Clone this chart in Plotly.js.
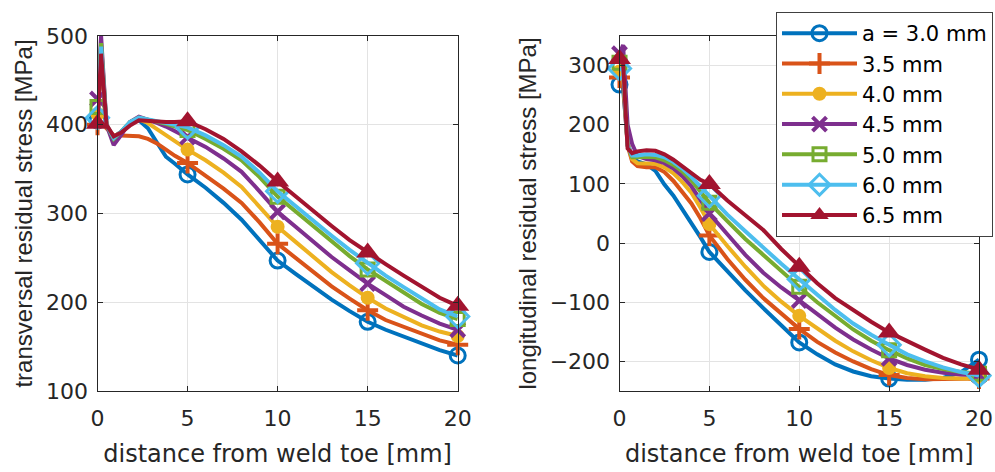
<!DOCTYPE html>
<html>
<head>
<meta charset="utf-8">
<script src="https://cdn.plot.ly/plotly-3.0.1.min.js"></script>
<style>html,body{margin:0;padding:0;background:#fff;}#chart{width:995px;height:472px;}</style>
</head>
<body>
<div id="chart"></div>
<script>
// ---- data ----
const seriesNames = ['a = 3.0 mm', '3.5 mm', '4.0 mm', '4.5 mm', '5.0 mm', '6.0 mm', '6.5 mm'];
const markerAt = [0, 5, 10, 15, 20];

const xLeft = [0, 0.2, 0.5, 0.9, 1.3, 1.8, 2.3, 2.8, 3.3, 3.8, 4.3, 5, 6, 7, 8, 9, 10, 11, 12, 13, 14, 15, 16, 17, 18, 19, 20];
const transA30 = [405, 478, 398, 386, 392, 402, 405, 396, 380, 364, 356, 344, 329, 312, 293, 270, 247, 232, 217, 203, 190, 178, 169, 161, 153, 146, 140];
const transA35 = [400, 480, 396, 388, 388, 388, 387, 384, 379, 372, 365, 357, 343, 328, 312, 290, 266, 250, 234, 218, 204, 191, 180, 172, 164, 157, 152];
const transA40 = [412, 484, 398, 386, 392, 402, 406, 402, 395, 388, 381, 372, 360, 346, 330, 308, 285, 268, 251, 234, 219, 205, 193, 183, 174, 167, 162];
const transA45 = [429, 500, 400, 377, 388, 403, 409, 406, 402, 398, 393, 386, 375, 362, 347, 325, 302, 285, 268, 251, 236, 221, 208, 195, 185, 176, 169];
const transA50 = [420, 492, 400, 384, 392, 403, 408, 406, 404, 401, 398, 394, 384, 373, 360, 341, 319, 302, 285, 268, 252, 237, 224, 210, 198, 188, 181];
const transA60 = [408, 488, 400, 385, 392, 403, 408, 406, 404, 402, 400, 397, 388, 377, 364, 346, 325, 308, 291, 275, 259, 244, 230, 217, 204, 192, 184];
const transA65 = [401, 480, 400, 387, 391, 399, 405, 404, 403, 403, 403, 404, 395, 384, 370, 354, 336, 319, 302, 286, 270, 256, 243, 230, 217, 205, 196];

const xRight = [0, 0.2, 0.45, 0.7, 1.0, 1.5, 2.0, 2.5, 3.0, 3.5, 4.0, 4.5, 5, 6, 7, 8, 9, 10, 11, 12, 13, 14, 15, 16, 17, 18, 19, 20];
const longA30 = [268, 262, 170, 145, 138, 133, 122, 99, 80, 57, 35, 10, -15, -48, -80, -110, -140, -168, -188, -205, -217, -225, -229, -231, -231, -228, -218, -197];
const longA35 = [280, 270, 165, 138, 130, 128, 128, 120, 105, 87, 67, 42, 13, -27, -62, -93, -120, -145, -167, -185, -200, -213, -223, -228, -230, -230, -230, -229];
const longA40 = [290, 285, 170, 142, 135, 135, 134, 128, 118, 103, 85, 60, 32, -5, -40, -72, -99, -123, -145, -165, -183, -198, -211, -220, -225, -228, -229, -229];
const longA45 = [320, 335, 200, 168, 147, 142, 140, 135, 126, 113, 96, 73, 50, 15, -20, -50, -75, -97, -121, -143, -163, -180, -195, -206, -214, -219, -222, -223];
const longA50 = [305, 300, 165, 145, 145, 146, 145, 140, 132, 121, 106, 88, 68, 37, 7, -20, -48, -74, -100, -124, -146, -165, -181, -195, -206, -213, -218, -221];
const longA60 = [295, 292, 165, 148, 148, 150, 149, 145, 137, 126, 112, 96, 80, 48, 20, -8, -35, -61, -88, -113, -136, -155, -172, -188, -200, -210, -218, -224];
const longA65 = [311, 305, 160, 152, 155, 157, 156, 150, 141, 130, 117, 107, 100, 72, 47, 22, -10, -40, -68, -93, -114, -133, -151, -166, -180, -194, -205, -214];

const xTicks = [0, 5, 10, 15, 20];
const yTicksLeft = [100, 200, 300, 400, 500];
const yTicksRight = [-200, -100, 0, 100, 200, 300];

// ---- styles ----
const colors = ['#0072BD', '#D95319', '#EDB120', '#7E2F8E', '#77AC30', '#4DBEEE', '#A2142F'];
const symbols = ['circle-open', 'cross-thin-open', 'circle', 'x-thin-open', 'square-open', 'diamond-open', 'triangle-up'];
const sizes = [15, 15, 14, 14, 13, 17, 20];
const mlw = [3, 4, 0, 4, 3, 3, 0];

const leftSeries = [transA30, transA35, transA40, transA45, transA50, transA60, transA65];
const rightSeries = [longA30, longA35, longA40, longA45, longA50, longA60, longA65];

function pick(xs, ys) {
  const mx = [], my = [];
  xs.forEach((x, i) => { if (markerAt.indexOf(x) >= 0) { mx.push(x); my.push(ys[i]); } });
  return [mx, my];
}

const traces = [];
function addSeries(xs, ys, i, xa, ya) {
  traces.push({x: xs, y: ys, xaxis: xa, yaxis: ya, mode: 'lines', showlegend: false,
    line: {color: colors[i], width: 4}, hoverinfo: 'skip'});
  const [mx, my] = pick(xs, ys);
  traces.push({x: mx, y: my, xaxis: xa, yaxis: ya, mode: 'markers', showlegend: false, cliponaxis: false,
    marker: {symbol: symbols[i], size: sizes[i], color: colors[i], line: {color: colors[i], width: mlw[i]}}});
}
for (let i = 0; i < 7; i++) {
  addSeries(xLeft, leftSeries[i], i, 'x', 'y');
  addSeries(xRight, rightSeries[i], i, 'x2', 'y2');
}
for (let i = 0; i < 7; i++) {
  traces.push({x: [null], y: [null], xaxis: 'x2', yaxis: 'y2', mode: 'lines+markers', name: seriesNames[i],
    line: {color: colors[i], width: 4},
    marker: {symbol: symbols[i], size: sizes[i], color: colors[i], line: {color: colors[i], width: mlw[i]}}});
}

const axisCol = '#262626';
const tickFont = {family: 'DejaVu Sans', size: 22, color: axisCol};
function xax(domain, anchor) {
  return {domain: domain, anchor: anchor, range: [0, 20], tickvals: xTicks, ticks: 'inside', ticklen: 5,
    tickcolor: axisCol, showline: true, linecolor: axisCol, linewidth: 1, mirror: 'ticks',
    showgrid: true, gridcolor: '#e3e3e3', zeroline: false, tickfont: tickFont, ticklabelstandoff: 8,
    title: {text: 'distance from weld toe [mm]', font: {family: 'DejaVu Sans', size: 24, color: axisCol}, standoff: 14}};
}
function yax(domain, anchor, range, ticks, title) {
  return {domain: domain, anchor: anchor, range: range, tickvals: ticks, ticks: 'inside', ticklen: 5,
    tickcolor: axisCol, showline: true, linecolor: axisCol, linewidth: 1, mirror: 'ticks',
    showgrid: true, gridcolor: '#e3e3e3', zeroline: false, tickfont: tickFont, ticklabelstandoff: 4,
    title: {text: title, font: {family: 'Liberation Sans', size: 24, color: axisCol}, standoff: 6}};
}

const yDom = [1 - 391 / 472, 1 - 36 / 472];
const layout = {
  width: 995, height: 472,
  margin: {l: 0, r: 0, t: 0, b: 0},
  paper_bgcolor: '#fff', plot_bgcolor: '#fff',
  showlegend: true,
  xaxis: xax([97.5 / 995, 457.7 / 995], 'y'),
  yaxis: yax(yDom, 'x', [100, 500], yTicksLeft, 'transversal residual stress [MPa]'),
  xaxis2: xax([619.5 / 995, 979 / 995], 'y2'),
  yaxis2: yax(yDom, 'x2', [-250, 350], yTicksRight, 'longitudinal residual stress [MPa]'),
  legend: {x: 776 / 995, y: 1 - 12 / 472, xanchor: 'left', yanchor: 'top',
    bgcolor: '#fff', bordercolor: '#404040', borderwidth: 1,
    font: {family: 'DejaVu Sans', size: 21, color: '#000'}, itemwidth: 75, tracegroupgap: 0}
};

Plotly.newPlot('chart', traces, layout, {displayModeBar: false, staticPlot: true});
</script>
</body>
</html>
